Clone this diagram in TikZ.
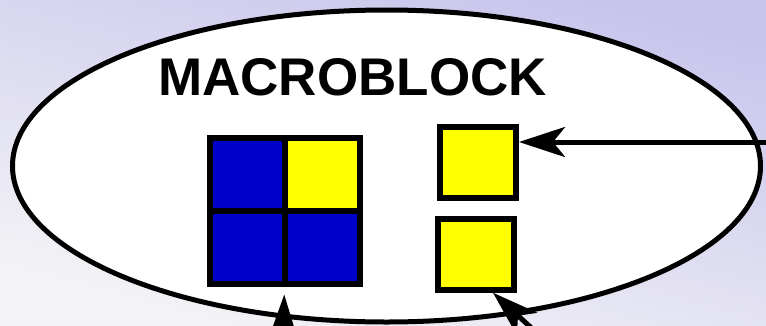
\documentclass[tikz,border=0pt]{standalone}
\usepackage{fontspec}
\setmainfont{Liberation Sans}
\usetikzlibrary{arrows.meta,shapes.geometric}
\definecolor{lavA}{RGB}{200,197,236}
\definecolor{lavB}{RGB}{244,244,246}
\definecolor{mbblue}{RGB}{0,0,204}
\definecolor{mbyellow}{RGB}{255,255,0}
\tikzset{
  cell/.style={draw=black, line width=6pt, inner sep=0pt, outer sep=0pt,
    minimum width=75pt, minimum height=73pt},
  blk/.style={draw=black, line width=6pt, inner sep=0pt, outer sep=0pt,
    fill=mbyellow, minimum width=76pt, minimum height=71pt},
  pointer/.style={line width=5pt, -{Stealth[length=46pt, width=30pt, inset=12pt]}},
  title/.style={font=\fontsize{53}{53}\selectfont\bfseries, inner sep=0pt}
}
\begin{document}
\begin{tikzpicture}[x=1pt, y=-1pt]
\useasboundingbox (0,0) rectangle (766,325);
\clip (0,0) rectangle (766,325);
\shade[top color=lavA, bottom color=lavB, shading angle=-15] (0,0) rectangle (766,325);
\node[draw=black, ellipse, line width=5pt, fill=white, inner sep=0pt,
  minimum width=748pt, minimum height=312pt] (mb) at (386.5,166) {};
\node[title, anchor=base] (lbl) at (352.5,95) {MACROBLOCK};
\node[cell, fill=mbblue] (c11) at (247,174) {};
\node[cell, fill=mbyellow] (c12) at (322,174) {};
\node[cell, fill=mbblue] (c21) at (247,247) {};
\node[cell, fill=mbblue] (c22) at (322,247) {};
\node[blk] (sq1) at (478,162.5) {};
\node[blk] (sq2) at (476,254.5) {};
\coordinate (t1) at (790,142);
\coordinate (t2) at (283,345);
\coordinate (t3) at (550,345);
\draw[pointer, shorten >=3pt] (t1) -- (sq1.east |- t1);
\draw[pointer, shorten >=11pt] (t2) -- (c21.south east);
\draw[pointer, shorten >=4pt] (t3) -- ([xshift=14pt]sq2.south);
\end{tikzpicture}
\end{document}
